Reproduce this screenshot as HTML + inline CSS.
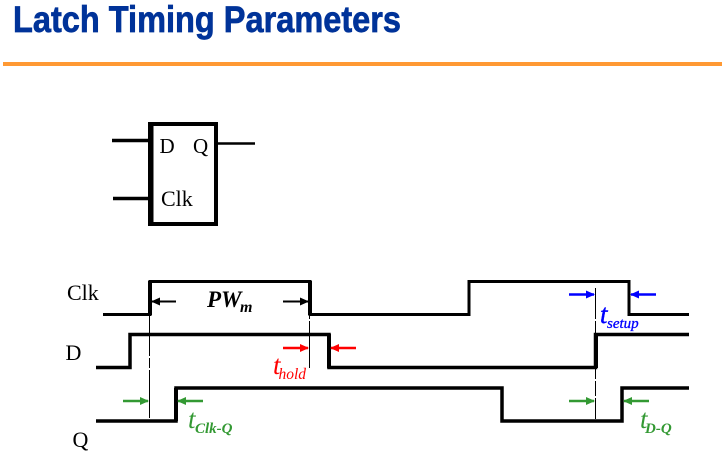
<!DOCTYPE html>
<html><head><meta charset="utf-8"><style>html,body{margin:0;padding:0;background:#fff;width:722px;height:463px;overflow:hidden}svg{display:block}</style></head>
<body><svg width="722" height="463" viewBox="0 0 722 463" xmlns="http://www.w3.org/2000/svg">
<defs>
<marker id="k" markerWidth="10" markerHeight="10" refX="8" refY="4" orient="auto" markerUnits="userSpaceOnUse"><path d="M0 0L9 4L0 8z" fill="#000"/></marker>
<marker id="r" markerWidth="10" markerHeight="10" refX="8" refY="4" orient="auto" markerUnits="userSpaceOnUse"><path d="M0 0L9 4L0 8z" fill="#f00"/></marker>
<marker id="g" markerWidth="10" markerHeight="10" refX="8" refY="4" orient="auto" markerUnits="userSpaceOnUse"><path d="M0 0L9 4L0 8z" fill="#339933"/></marker>
<marker id="b" markerWidth="10" markerHeight="10" refX="8" refY="4" orient="auto" markerUnits="userSpaceOnUse"><path d="M0 0L9 4L0 8z" fill="#0000ff"/></marker>
</defs>
<rect width="722" height="463" fill="#fff"/>
<text x="13" y="32" font-family="'Liberation Sans',sans-serif" font-weight="700" font-size="37" fill="#003399" stroke="#003399" stroke-width="0.7" textLength="388" lengthAdjust="spacingAndGlyphs">Latch Timing Parameters</text>
<rect x="3" y="62" width="719" height="4" fill="#ff9933"/>
<g fill="none" stroke="#000">
<rect x="150" y="124" width="66" height="100" stroke-width="4"/>
<path d="M151 122V226" stroke-width="5"/>
<path d="M112 140.5H150" stroke-width="3.5"/>
<path d="M113 198.5H150" stroke-width="3.5"/>
<path d="M218 143.5H255" stroke-width="2.5"/>
<path d="M103 314.5H150V281.5H310V314.5H469V281.5H629V314.5H689" stroke-width="3"/>
<path d="M150 281V315M310 281V315" stroke-width="4"/>
<path d="M96 367.5H130V334.5H329V367.5H595.5V334.5H689" stroke-width="3.5"/>
<path d="M329 334V368M596 334V368" stroke-width="4"/>
<path d="M96 421H176V388H502V421H622V388H689" stroke-width="3.5"/>
<path d="M176 388V421" stroke-width="4"/>
<path d="M149.5 316V356M149.5 358V368M149.5 370V418M309.5 316V319M309.5 321V368M595.5 288V319M595.5 321V334M595.5 369V379M595.5 381V396M595.5 398V419" stroke-width="1"/>
<path d="M176 301.5H152" stroke-width="2" marker-end="url(#k)"/>
<path d="M283 301.5H308" stroke-width="2" marker-end="url(#k)"/>
</g>
<g fill="none" stroke-width="2.5">
<path d="M283 348H308" stroke="#f00" marker-end="url(#r)"/>
<path d="M356 348H331" stroke="#f00" marker-end="url(#r)"/>
<path d="M123 401H148" stroke="#339933" marker-end="url(#g)"/>
<path d="M203 401H178" stroke="#339933" marker-end="url(#g)"/>
<path d="M569 401H594" stroke="#339933" marker-end="url(#g)"/>
<path d="M649 401H624" stroke="#339933" marker-end="url(#g)"/>
<path d="M569 294.5H594" stroke="#0000ff" marker-end="url(#b)"/>
<path d="M656 294.5H631" stroke="#0000ff" marker-end="url(#b)"/>
</g>
<g font-family="'Liberation Serif',serif" fill="#000">
<text x="159.5" y="153" font-size="21">D</text>
<text x="193" y="153" font-size="21">Q</text>
<text x="161" y="206" font-size="22">Clk</text>
<text x="67" y="300" font-size="22">Clk</text>
<text x="65.5" y="360" font-size="22">D</text>
<text x="72.5" y="447" font-size="22">Q</text>
</g>
<g font-family="'Liberation Serif',serif" font-style="italic" font-weight="700">
<text x="207" y="307" font-size="23" fill="#000">PW</text>
<text x="240" y="312" font-size="16" fill="#000">m</text>
<text x="273" y="374" font-size="27" font-weight="400" fill="#f00">t</text>
<text x="278.5" y="379" font-size="15.5" font-weight="400" fill="#f00">hold</text>
<text x="600" y="323" font-size="27" font-weight="400" fill="#0000ff" stroke="#0000ff" stroke-width="0.4">t</text>
<text x="607" y="328" font-size="15" font-weight="400" fill="#0000ff" stroke="#0000ff" stroke-width="0.3">setup</text>
<text x="188" y="428" font-size="27" font-weight="400" fill="#339933">t</text>
<text x="195" y="433" font-size="15" fill="#339933">Clk-Q</text>
<text x="640" y="428" font-size="27" font-weight="400" fill="#339933">t</text>
<text x="645" y="433" font-size="15" fill="#339933">D-Q</text>
</g>
</svg></body></html>
